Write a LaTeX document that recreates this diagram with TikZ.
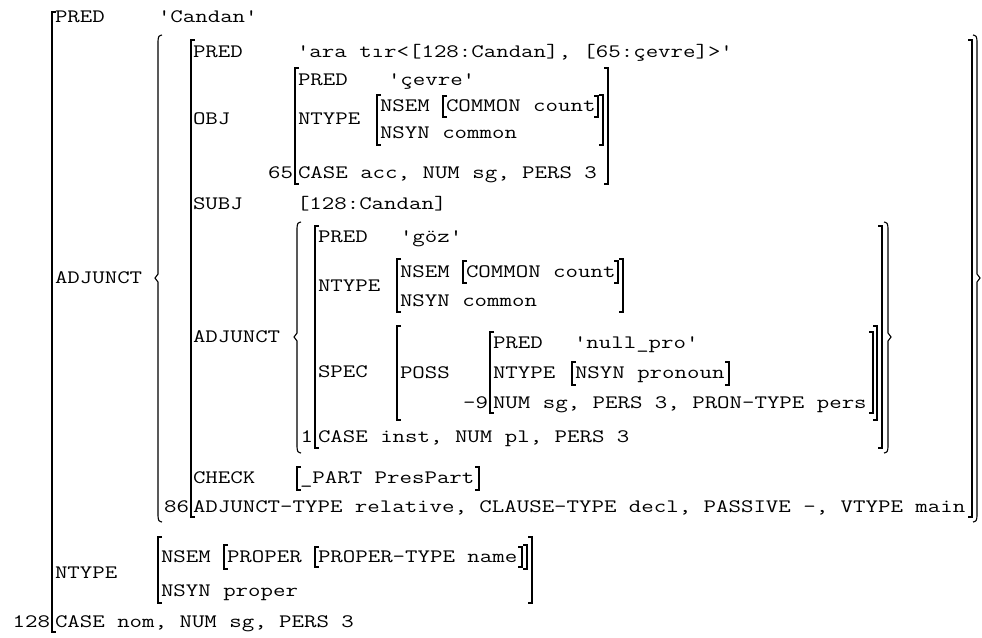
\documentclass[tikz,border=0pt]{standalone}
\usepackage{fontspec}
\setmonofont{Latin Modern Mono}[FakeStretch=1.273]
\tikzset{
  txt/.style={anchor=base west, inner sep=0pt, outer sep=0pt},
  txtr/.style={anchor=base east, inner sep=0pt, outer sep=0pt},
  br/.style={line width=1.1pt, line cap=butt, line join=miter}
}
\newcommand\tx[4]{\node[txt] (#1) at (#2,#3+5.8) {#4};}
\newcommand\txr[4]{\node[txtr] (#1) at (#2,#3+5.8) {#4};}
\newcommand\fsLbr[3]{\draw[br] (#1+4,#2) -- (#1,#2) -- (#1,#3) -- (#1+4,#3);}
\newcommand\fsRbr[3]{\draw[br] (#1-4,#2) -- (#1,#2) -- (#1,#3) -- (#1-4,#3);}
\newcommand\fsLbrace[4]{\draw[br] (#1+4,#2) .. controls (#1+0.5,#2+1) .. (#1,#2+6) -- (#1,#4-4) -- (#1-3,#4) -- (#1,#4+4) -- (#1,#3-6) .. controls (#1+0.5,#3-1) .. (#1+4,#3);}
\newcommand\fsRbrace[4]{\draw[br] (#1-4,#2) .. controls (#1-0.5,#2+1) .. (#1,#2+6) -- (#1,#4-4) -- (#1+3,#4) -- (#1,#4+4) -- (#1,#3-6) .. controls (#1-0.5,#3-1) .. (#1-4,#3);}
\begin{document}
\frenchspacing
\begin{tikzpicture}[x=1pt,y=-1pt,font=\ttfamily\fontsize{19}{22}\selectfont]
\useasboundingbox (0,0) rectangle (982,637);
% outermost f-structure 128
\fsLbr{52}{12}{632}
\tx{a1}{55}{17}{PRED}
\tx{a2}{158}{17}{'Candan'}
\tx{a3}{55}{278}{ADJUNCT}
\tx{a4}{55}{573}{NTYPE}
\txr{a5}{50}{622}{128}
\tx{a6}{55}{622}{CASE nom, NUM sg, PERS 3}
% NTYPE of 128
\fsLbr{158}{537}{603}
\tx{b1}{161}{557}{NSEM}
\fsLbr{224}{545}{569}
\tx{b2}{227}{557}{PROPER}
\fsLbr{315}{547}{567}
\tx{b3}{318}{557}{PROPER-TYPE name}
\fsRbr{522}{547}{567}
\fsRbr{527}{545}{569}
\tx{b4}{161}{591}{NSYN proper}
\fsRbr{532}{537}{603}
% outer ADJUNCT set
\fsLbrace{158}{35}{522}{278}
\fsRbrace{977}{35}{522}{278}
% f-structure 86
\fsLbr{191}{40}{517}
\fsRbr{972}{40}{517}
\txr{c0}{189}{507}{86}
\tx{c1}{193}{52}{PRED}
\tx{c2}{297}{52}{'ara tır<[128:Candan], [65:çevre]>'}
\tx{c3}{193}{119}{OBJ}
% OBJ 65
\fsLbr{295}{68}{184}
\fsRbr{608}{68}{184}
\txr{d0}{293}{173}{65}
\tx{d1}{298}{80}{PRED}
\tx{d2}{388}{80}{'çevre'}
\tx{d3}{298}{119}{NTYPE}
\fsLbr{377}{95}{145}
\fsRbr{603}{95}{145}
\tx{d4}{380}{106}{NSEM}
\fsLbr{443}{96}{117}
\tx{d5}{446}{106}{COMMON count}
\fsRbr{598}{96}{117}
\tx{d6}{380}{133}{NSYN common}
\tx{d7}{298}{173}{CASE acc, NUM sg, PERS 3}
\tx{c4}{193}{204}{SUBJ}
\tx{c5}{297}{204}{[128:Candan]}
\tx{c6}{193}{337}{ADJUNCT}
% inner ADJUNCT set
\fsLbrace{297}{222}{453}{337}
\fsRbrace{888}{222}{453}{337}
% f-structure 1
\fsLbr{315}{226}{448}
\fsRbr{882}{226}{448}
\txr{e0}{313}{437}{1}
\tx{e1}{318}{237}{PRED}
\tx{e2}{400}{237}{'göz'}
\tx{e3}{318}{286}{NTYPE}
\fsLbr{397}{259}{312}
\fsRbr{623}{259}{312}
\tx{e4}{400}{272}{NSEM}
\fsLbr{463}{261}{283}
\tx{e5}{466}{272}{COMMON count}
\fsRbr{618}{261}{283}
\tx{e6}{400}{301}{NSYN common}
\tx{e7}{318}{372}{SPEC}
\fsLbr{397}{326}{420}
\fsRbr{877}{326}{420}
\tx{f1}{400}{373}{POSS}
% -9
\fsLbr{490}{332}{413}
\fsRbr{873}{332}{413}
\txr{g0}{488}{403}{-9}
\tx{g1}{493}{343}{PRED}
\tx{g2}{574}{343}{'null\_pro'}
\tx{g3}{493}{373}{NTYPE}
\fsLbr{572}{362}{385}
\tx{g4}{575}{373}{NSYN pronoun}
\fsRbr{729}{362}{385}
\tx{g5}{493}{403}{NUM sg, PERS 3, PRON-TYPE pers}
\tx{e8}{318}{437}{CASE inst, NUM pl, PERS 3}
% CHECK
\tx{c7}{193}{478}{CHECK}
\fsLbr{297}{467}{490}
\tx{h1}{300}{478}{\_PART PresPart}
\fsRbr{479}{467}{490}
\tx{c8}{193}{507}{ADJUNCT-TYPE relative, CLAUSE-TYPE decl, PASSIVE -, VTYPE main}
\end{tikzpicture}
\end{document}
